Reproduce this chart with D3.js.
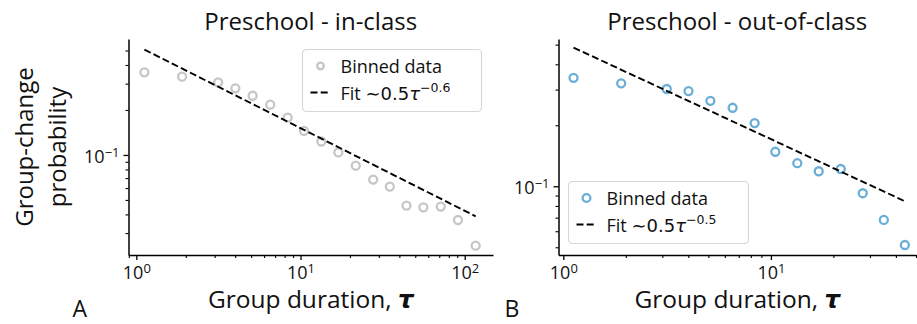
<!DOCTYPE html>
<html>
<head>
<meta charset="utf-8">
<script src="https://cdn.jsdelivr.net/npm/d3@7"></script>
<style>
  body { margin: 0; background: #fff; }
  svg { display: block; }
</style>
</head>
<body>
<svg id="chart" width="917" height="324"></svg>
<script>
// Logarithmic duration bins (tau) shared by both settings
const durationBins = [1.12, 1.90, 3.15, 4.01, 5.11, 6.54, 8.35, 10.5, 13.4, 17.0, 21.7, 27.7, 35.0, 44.2, 56.0, 71.5, 91.0, 116.6];
// Binned group-change probability, in-class
const inClassProb = [0.357, 0.334, 0.306, 0.279, 0.249, 0.217, 0.178, 0.145, 0.123, 0.104, 0.0848, 0.0684, 0.0614, 0.0458, 0.0446, 0.0451, 0.0367, 0.0247];
// Binned group-change probability, out-of-class
const outClassProb = [0.343, 0.322, 0.302, 0.295, 0.264, 0.244, 0.205, 0.148, 0.130, 0.1186, 0.1217, 0.0924, 0.0682, 0.0513];
// Power-law fits p = a * tau^b  ->  [a, b]
const inClassFit = [0.54, -0.553];
const outClassFit = [0.51, -0.475];
// Panel titles and letters
const panelTitles = ["Preschool - in-class", "Preschool - out-of-class"];
const panelLetters = ["A", "B"];

const FONT = "'Open Sans', Lato, sans-serif";
const MATH = "'DejaVu Sans', sans-serif";

const svg = d3.select("#chart");

const panels = [
  {
    title: panelTitles[0], letter: panelLetters[0],
    probs: inClassProb, fit: inClassFit, color: "#c6c6c6",
    xRange: [128.5, 493], yRange: [255, 39],
    xDomain: [0.896, 148.7], yDomain: [0.0214, 0.597],
    legend: { x: 302.5, y: 49.5, w: 179, h: 62 },
    legendMarkerR: 3.3,
    showYLabel: true
  },
  {
    title: panelTitles[1], letter: panelLetters[1],
    probs: outClassProb, fit: outClassFit, color: "#6baed6",
    xRange: [558.5, 916], yRange: [255, 39],
    xDomain: [0.948, 50.0], yDomain: [0.0458, 0.533],
    legend: { x: 568.5, y: 181.5, w: 180, h: 62 },
    legendMarkerR: 3.9,
    showYLabel: false
  }
];

function decadeTicks(domain) {
  const major = [], minor = [];
  const e0 = Math.floor(Math.log10(domain[0]));
  const e1 = Math.ceil(Math.log10(domain[1]));
  for (let e = e0; e <= e1; e++) {
    for (let m = 1; m < 10; m++) {
      const v = +(m * Math.pow(10, e)).toPrecision(6);
      if (v < domain[0] || v > domain[1]) continue;
      (m === 1 ? major : minor).push(v);
    }
  }
  return { major, minor };
}

// replace a tick label with "10" + superscript exponent
function powerLabel(textSel) {
  textSel.each(function (d) {
    const t = d3.select(this);
    const exp = Math.round(Math.log10(d));
    t.text(null);
    t.append("tspan").text("10");
    t.append("tspan")
      .attr("dy", "-0.45em")
      .attr("font-size", "0.72em")
      .text(exp < 0 ? "\u2212" + Math.abs(exp) : String(exp));
  });
}

panels.forEach(p => {
  const x = d3.scaleLog().domain(p.xDomain).range(p.xRange);
  const y = d3.scaleLog().domain(p.yDomain).range(p.yRange);
  const g = svg.append("g");

  const xt = decadeTicks(p.xDomain);
  const yt = decadeTicks(p.yDomain);

  // x axis: minor then major
  const xMinor = g.append("g").attr("transform", `translate(0,${p.yRange[0]})`)
    .call(d3.axisBottom(x).tickValues(xt.minor).tickSize(3).tickFormat(""));
  const xMajor = g.append("g").attr("transform", `translate(0,${p.yRange[0]})`)
    .call(d3.axisBottom(x).tickValues(xt.major).tickSize(5).tickSizeOuter(0).tickPadding(2));
  xMinor.select(".domain").remove();
  xMajor.select(".domain").attr("stroke-width", 1.5);
  xMajor.selectAll(".tick line").attr("stroke-width", 1.3);
  xMinor.selectAll(".tick line").attr("stroke-width", 1.1);
  xMajor.selectAll(".tick text").attr("font-family", FONT).attr("font-size", 18).attr("fill", "#111")
    .attr("dy", "0.95em").call(powerLabel);

  // y axis: minor then major
  const yMinor = g.append("g").attr("transform", `translate(${p.xRange[0]},0)`)
    .call(d3.axisLeft(y).tickValues(yt.minor).tickSize(3).tickFormat(""));
  const yMajor = g.append("g").attr("transform", `translate(${p.xRange[0]},0)`)
    .call(d3.axisLeft(y).tickValues(yt.major).tickSize(5).tickSizeOuter(0).tickPadding(4));
  yMinor.select(".domain").remove();
  yMajor.select(".domain").attr("stroke-width", 1.5);
  yMajor.selectAll(".tick line").attr("stroke-width", 1.3);
  yMinor.selectAll(".tick line").attr("stroke-width", 1.1);
  yMajor.selectAll(".tick text").attr("font-family", FONT).attr("font-size", 18).attr("fill", "#111")
    .attr("dy", "0.4em").call(powerLabel);

  // binned data markers
  const bins = durationBins.slice(0, p.probs.length);
  g.append("g").selectAll("circle")
    .data(p.probs)
    .join("circle")
    .attr("cx", (d, i) => x(bins[i]))
    .attr("cy", d => y(d))
    .attr("r", 4)
    .attr("fill", "none")
    .attr("stroke", p.color)
    .attr("stroke-width", 2.3);

  // power-law fit over the binned range
  const [a, b] = p.fit;
  const fitLine = d3.line().x(t => x(t)).y(t => y(a * Math.pow(t, b)));
  g.append("path")
    .datum([bins[0], bins[bins.length - 1]])
    .attr("d", fitLine)
    .attr("fill", "none")
    .attr("stroke", "#000")
    .attr("stroke-width", 1.9)
    .attr("stroke-dasharray", "7,3.2");

  // title
  const cx = (p.xRange[0] + p.xRange[1]) / 2;
  g.append("text")
    .attr("x", cx).attr("y", 30)
    .attr("text-anchor", "middle")
    .attr("font-family", FONT).attr("font-size", 24).attr("fill", "#111")
    .text(p.title);

  // x label
  const xl = g.append("text")
    .attr("x", cx).attr("y", 308)
    .attr("text-anchor", "middle")
    .attr("font-family", FONT).attr("font-size", 24.5).attr("fill", "#111");
  xl.append("tspan").text("Group duration, ");
  xl.append("tspan").attr("font-family", MATH).attr("font-style", "italic").attr("font-weight", "bold").text("\u03c4");

  // panel letter
  g.append("text")
    .attr("x", p.xRange[0] - (p.showYLabel ? 56 : 54)).attr("y", 317)
    .attr("font-family", FONT).attr("font-size", 23).attr("fill", "#111")
    .text(p.letter);

  // y label (two lines)
  if (p.showYLabel) {
    const cy = (p.yRange[0] + p.yRange[1]) / 2;
    const yl = g.append("text")
      .attr("transform", `translate(33,${cy}) rotate(-90)`)
      .attr("text-anchor", "middle")
      .attr("font-family", FONT).attr("font-size", 24).attr("fill", "#111");
    yl.append("tspan").attr("x", 0).attr("dy", 0).text("Group-change");
    yl.append("tspan").attr("x", 0).attr("dy", 33).text("probability");
  }

  // legend
  const L = p.legend;
  const lg = g.append("g").attr("transform", `translate(${L.x},${L.y})`);
  lg.append("rect")
    .attr("width", L.w).attr("height", L.h).attr("rx", 4)
    .attr("fill", "#fff").attr("fill-opacity", 0.85)
    .attr("stroke", "#d6d6d6").attr("stroke-width", 1.1);
  lg.append("circle")
    .attr("cx", 18).attr("cy", 16.5).attr("r", p.legendMarkerR)
    .attr("fill", "none").attr("stroke", p.color).attr("stroke-width", 2.3);
  lg.append("text")
    .attr("x", 38).attr("y", 23)
    .attr("font-family", FONT).attr("font-size", 18).attr("fill", "#111")
    .text("Binned data");
  lg.append("line")
    .attr("x1", 8).attr("x2", 28).attr("y1", 43).attr("y2", 43)
    .attr("stroke", "#000").attr("stroke-width", 1.9).attr("stroke-dasharray", "7,3.2");
  const fmt = v => {
    const r = Math.round(v * 10) / 10;
    return (r < 0 ? "\u2212" : "") + Math.abs(r).toFixed(1);
  };
  const ft = lg.append("text")
    .attr("x", 38).attr("y", 50)
    .attr("font-family", FONT).attr("font-size", 18).attr("fill", "#111");
  ft.append("tspan").text("Fit ");
  ft.append("tspan").attr("font-family", MATH).attr("font-size", 18).text("\u223c" + fmt(a));
  ft.append("tspan").attr("font-family", MATH).attr("font-size", 18).attr("font-style", "italic").text("\u03c4");
  ft.append("tspan").attr("font-family", MATH).attr("font-size", 12.5).attr("dy", -8).text(fmt(b));
});
</script>
</body>
</html>
